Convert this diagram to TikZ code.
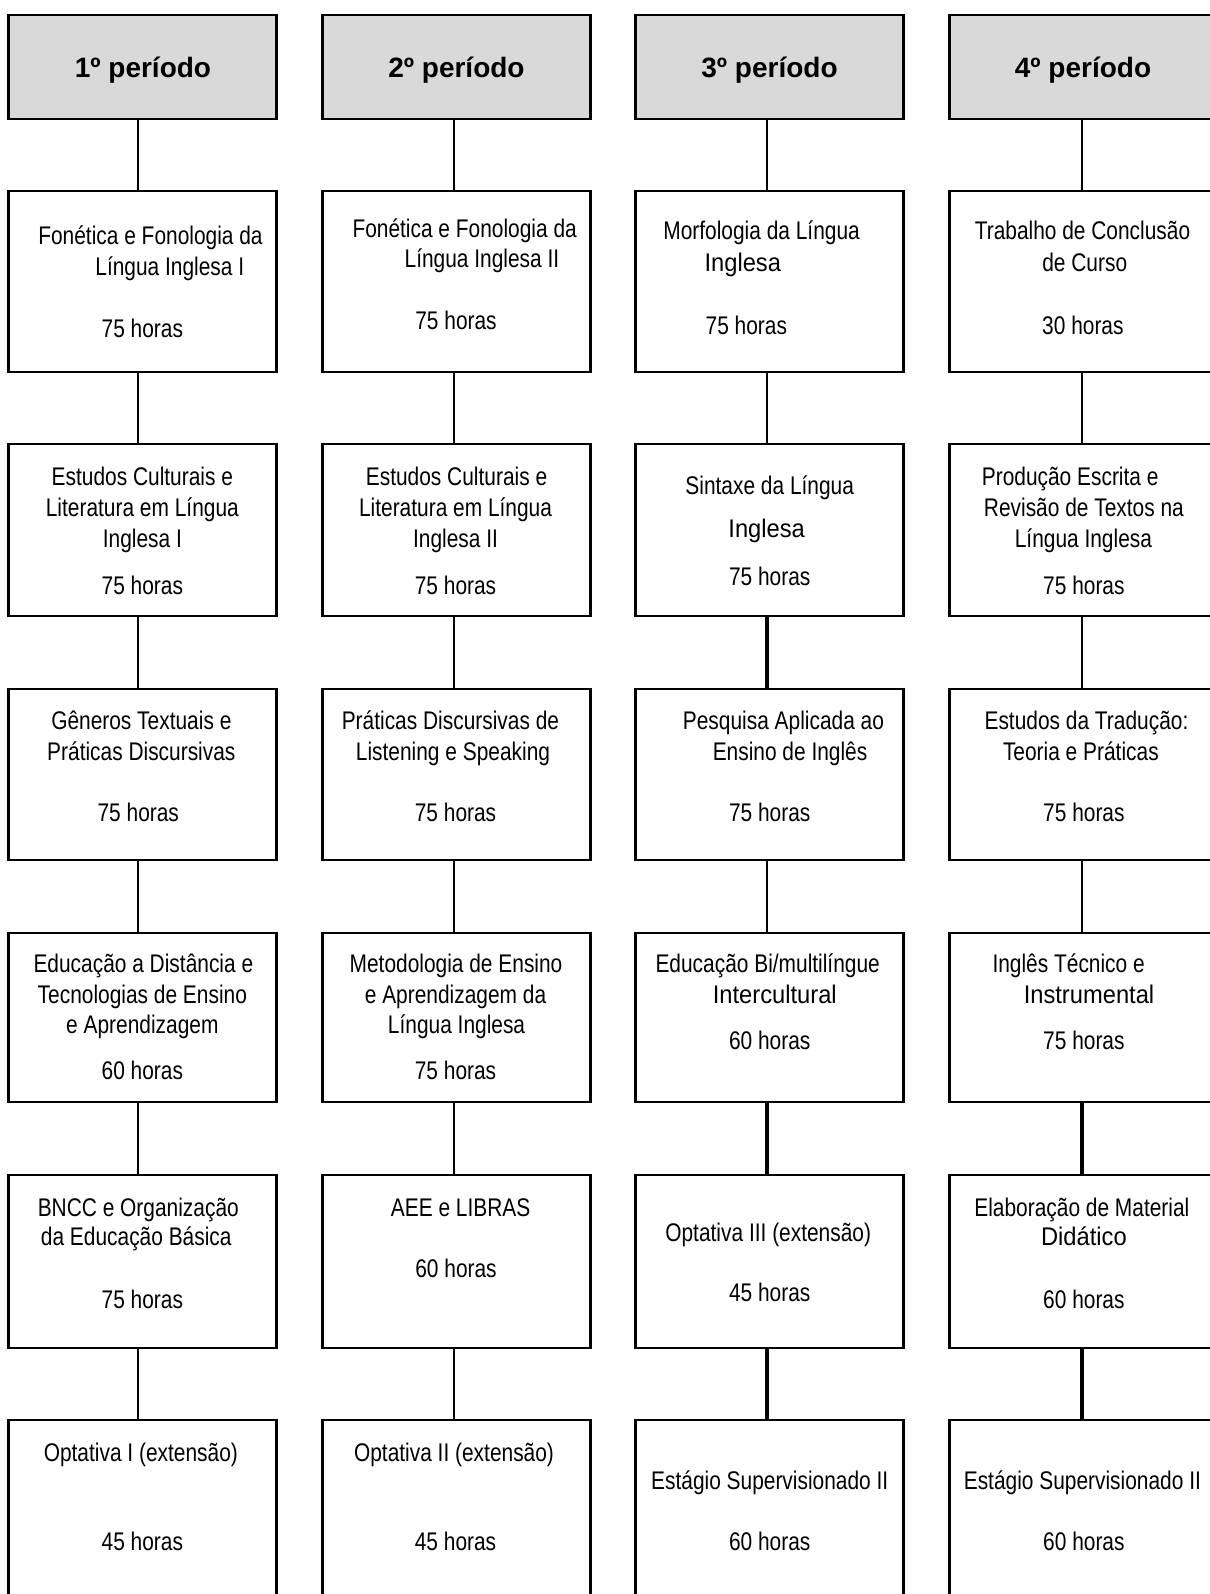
\documentclass[tikz,border=0pt]{standalone}
\usepackage{fontspec}
\setmainfont{Liberation Sans}
\newfontfamily\bodyf[FakeStretch=0.82]{Liberation Sans}
\newfontfamily\widef[FakeStretch=0.93]{Liberation Sans}
\definecolor{headgray}{HTML}{D9D9D9}
\newcommand\tlab[4]{\node[lbl] (#1) at (#2,#3+7.9) {#4};}
\newcommand\tlabw[4]{\node[lblw] (#1) at (#2,#3+7.9) {#4};}
\begin{document}
\begin{tikzpicture}[x=1pt,y=-1pt,
  box/.style={draw=black, line width=2.6pt, minimum width=268pt, inner sep=0pt, fill=white},
  head/.style={box, fill=headgray, minimum height=104pt},
  lbl/.style={anchor=base, inner sep=0pt, font=\bodyf\fontsize{25.5}{30}\selectfont},
  lblw/.style={lbl, font=\widef\fontsize{25.5}{30}\selectfont},
  hlbl/.style={anchor=base, inner sep=0pt, font=\bfseries\fontsize{28}{32}\selectfont},
  thinlink/.style={line width=2.2pt},
  thicklink/.style={line width=3.2pt}]
\path[use as bounding box, fill=white] (0,0) rectangle (1209,1594);

% boxes
\foreach \c/\cx in {1/142.5,2/456.5,3/769.5,4/1083.5} {
  \node[head] (h\c) at (\cx,67) {};
  \foreach \r/\cy/\hh in {1/281.5/181, 2/530/172, 3/774.5/171, 4/1017.5/169, 5/1261.5/173, 6/1535/230} {
    \node[box, minimum height=\hh pt] (b\c\r) at (\cx,\cy) {};
  }
}

% connectors
\foreach \s/\a/\b/\dx in {
  thinlink/h1/b11/-4.5, thinlink/b11/b12/-4.5, thinlink/b12/b13/-4.5, thinlink/b13/b14/-4.5, thinlink/b14/b15/-4.5, thinlink/b15/b16/-4.5,
  thinlink/h2/b21/-2.5, thinlink/b21/b22/-2.5, thinlink/b22/b23/-2.5, thinlink/b23/b24/-2.5, thinlink/b24/b25/-2.5, thinlink/b25/b26/-2.5,
  thinlink/h3/b31/-2.5, thinlink/b31/b32/-2.5, thicklink/b32/b33/-2.5, thinlink/b33/b34/-2.5, thicklink/b34/b35/-2.5, thicklink/b35/b36/-2.5,
  thinlink/h4/b41/-1.5, thinlink/b41/b42/-1.5, thinlink/b42/b43/-1.5, thinlink/b43/b44/-1.5, thicklink/b44/b45/-1.5, thicklink/b45/b46/-1.5} {
  \draw[\s] ([xshift=\dx pt]\a.south) -- ([xshift=\dx pt]\b.north);
}

% headers
\node[hlbl] (ht1) at (143,78) {1º período};
\node[hlbl] (ht2) at (456.5,78) {2º período};
\node[hlbl] (ht3) at (769.5,78) {3º período};
\node[hlbl] (ht4) at (1083,78) {4º período};

\begin{scope}[x=1.0168pt, y=-1.0168pt]
% column 1
\tlab{t111}{148}{233}{Fonética e Fonologia da}
\tlab{t112}{167}{263}{Língua Inglesa I}
\tlab{t113}{140}{324.5}{75 horas}
\tlab{t121}{140}{470}{Estudos Culturais e}
\tlab{t122}{140}{500}{Literatura em Língua}
\tlab{t123}{140}{531}{Inglesa I}
\tlab{t124}{140}{577}{75 horas}
\tlab{t131}{139}{710}{Gêneros Textuais e}
\tlab{t132}{139}{740}{Práticas Discursivas}
\tlab{t133}{136}{800}{75 horas}
\tlab{t141}{141}{949}{Educação a Distância e}
\tlab{t142}{140}{979}{Tecnologias de Ensino}
\tlab{t143}{140}{1009}{e Aprendizagem}
\tlab{t144}{140}{1054}{60 horas}
\tlab{t151}{136}{1188}{BNCC e Organização}
\tlab{t152}{134}{1217}{da Educação Básica}
\tlab{t153}{140}{1279}{75 horas}
\tlab{t161}{138.5}{1429}{Optativa I (extensão)}
\tlab{t162}{140}{1517}{45 horas}
% column 2
\tlab{t211}{457}{226}{Fonética e Fonologia da}
\tlab{t212}{474}{255}{Língua Inglesa II}
\tlab{t213}{448.5}{316}{75 horas}
\tlab{t221}{449}{470}{Estudos Culturais e}
\tlab{t222}{448}{500}{Literatura em Língua}
\tlab{t223}{448}{531}{Inglesa II}
\tlab{t224}{448}{577}{75 horas}
\tlab{t231}{443}{710}{Práticas Discursivas de}
\tlab{t232}{445.5}{740}{Listening e Speaking}
\tlab{t233}{448}{800}{75 horas}
\tlab{t241}{448.5}{949}{Metodologia de Ensino}
\tlab{t242}{448}{979}{e Aprendizagem da}
\tlab{t243}{449}{1009}{Língua Inglesa}
\tlab{t244}{448}{1054}{75 horas}
\tlab{t251}{453}{1188}{AEE e LIBRAS}
\tlab{t252}{448.5}{1248}{60 horas}
\tlab{t261}{446.5}{1429}{Optativa II (extensão)}
\tlab{t262}{448}{1517}{45 horas}
% column 3
\tlab{t311}{749}{228}{Morfologia da Língua}
\tlabw{t312}{730.5}{259}{Inglesa}
\tlab{t313}{734}{321}{75 horas}
\tlab{t321}{757}{478}{Sintaxe da Língua}
\tlabw{t322}{754}{521}{Inglesa}
\tlab{t323}{757}{568}{75 horas}
\tlab{t331}{770.5}{710}{Pesquisa Aplicada ao}
\tlab{t332}{777}{740}{Ensino de Inglês}
\tlab{t333}{757}{800}{75 horas}
\tlab{t341}{755}{949}{Educação Bi/multilíngue}
\tlabw{t342}{762}{979}{Intercultural}
\tlab{t343}{757}{1024}{60 horas}
\tlab{t351}{755.5}{1213}{Optativa III (extensão)}
\tlab{t352}{757}{1272}{45 horas}
\tlab{t361}{757}{1457}{Estágio Supervisionado II}
\tlab{t362}{757}{1517}{60 horas}
% column 4
\tlab{t411}{1064.6}{228}{Trabalho de Conclusão}
\tlab{t412}{1066.8}{259}{de Curso}
\tlab{t413}{1065}{321}{30 horas}
\tlab{t421}{1052.5}{470}{Produção Escrita e}
\tlab{t422}{1066}{500}{Revisão de Textos na}
\tlab{t423}{1065.5}{531}{Língua Inglesa}
\tlab{t424}{1066}{577}{75 horas}
\tlab{t431}{1068.5}{710}{Estudos da Tradução:}
\tlab{t432}{1063}{740}{Teoria e Práticas}
\tlab{t433}{1066}{800}{75 horas}
\tlab{t441}{1051}{949}{Inglês Técnico e}
\tlabw{t442}{1071}{979}{Instrumental}
\tlab{t443}{1066}{1024}{75 horas}
\tlab{t451}{1064}{1188}{Elaboração de Material}
\tlabw{t452}{1066}{1217}{Didático}
\tlab{t453}{1066}{1279}{60 horas}
\tlab{t461}{1064.5}{1457}{Estágio Supervisionado II}
\tlab{t462}{1066}{1517}{60 horas}
\end{scope}
\end{tikzpicture}
\end{document}
